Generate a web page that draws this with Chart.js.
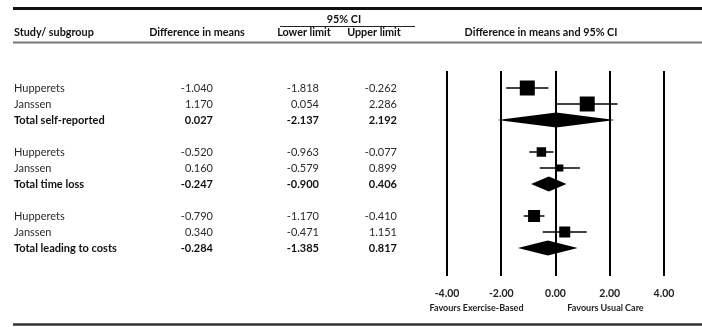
<!DOCTYPE html>
<html>
<head>
<meta charset="utf-8">
<script src="https://cdn.jsdelivr.net/npm/chart.js"></script>
<style>
  html, body { margin: 0; padding: 0; background: #fff; }
  #forest { display: block; }
</style>
</head>
<body>
<canvas id="forest" width="702" height="327"></canvas>
<script>
// forest plot: difference in means, three outcome groups
const studyNames = ['Hupperets', 'Janssen', 'Total self-reported',
                    'Hupperets', 'Janssen', 'Total time loss',
                    'Hupperets', 'Janssen', 'Total leading to costs'];
const isTotal = [false, false, true, false, false, true, false, false, true];
const diffMeans = [-1.040, 1.170, 0.027, -0.520, 0.160, -0.247, -0.790, 0.340, -0.284];
const lowerLimits = [-1.818, 0.054, -2.137, -0.963, -0.579, -0.900, -1.170, -0.471, -1.385];
const upperLimits = [-0.262, 2.286, 2.192, -0.077, 0.899, 0.406, -0.410, 1.151, 0.817];
// relative study weights, read from the square areas (totals have none)
const weights = [100, 100, null, 40, 22, null, 64, 54, null];
const xTicks = [-4, -2, 0, 2, 4];

const FONT = 'Lato, "Liberation Sans", sans-serif';
// one blank slot between groups
const rowIndex = studyNames.map((_, i) => i + Math.floor(i / 3));

function squareRadius(w) {
  // rect pointStyle side = 2 * r * SQRT1_2
  const side = 15 * Math.sqrt(w / 100);
  return side / (2 * Math.SQRT1_2);
}

const studyPoints = [];
const studyRadius = [];
studyNames.forEach((n, i) => {
  if (!isTotal[i]) {
    studyPoints.push({ x: diffMeans[i], y: rowIndex[i] });
    studyRadius.push(squareRadius(weights[i]));
  }
});

function text(ctx, str, x, y, font, align, color) {
  ctx.font = font;
  ctx.textAlign = align;
  ctx.textBaseline = 'middle';
  ctx.fillStyle = color;
  ctx.fillText(str, x, y);
}

function hline(ctx, x1, x2, y, w, color) {
  ctx.beginPath();
  ctx.strokeStyle = color;
  ctx.lineWidth = w;
  ctx.moveTo(x1, y);
  ctx.lineTo(x2, y);
  ctx.stroke();
}

const forestPlugin = {
  id: 'forestTable',
  beforeDatasetsDraw(chart) {
    const { ctx, scales: { x, y } } = chart;
    ctx.save();
    ctx.fillStyle = '#000';
    studyNames.forEach((n, i) => {
      const py = y.getPixelForValue(rowIndex[i]);
      const lo = x.getPixelForValue(lowerLimits[i]);
      const hi = x.getPixelForValue(upperLimits[i]);
      const m = x.getPixelForValue(diffMeans[i]);
      if (isTotal[i]) {
        ctx.beginPath();
        ctx.moveTo(lo, py);
        ctx.lineTo(m, py - 7.5);
        ctx.lineTo(hi, py);
        ctx.lineTo(m, py + 7.5);
        ctx.closePath();
        ctx.fill();
      } else {
        hline(ctx, lo, hi, py, 1.5, '#000');
      }
    });
    ctx.restore();
  },
  afterDraw(chart) {
    const { ctx, scales: { y } } = chart;
    ctx.save();
    // rules
    hline(ctx, 13, 702, 8.5, 3, '#111');
    hline(ctx, 280, 415, 26.5, 1, '#222');
    hline(ctx, 13, 702, 42.5, 2, '#777');
    hline(ctx, 13, 702, 324.5, 2.5, '#333');

    // header
    const hf = 'bold 10.8px ' + FONT;
    text(ctx, '95% CI', 344, 20, hf, 'center', '#111');
    text(ctx, 'Study/ subgroup', 14, 33, hf, 'left', '#111');
    text(ctx, 'Difference in means', 197, 33, hf, 'center', '#111');
    text(ctx, 'Lower limit', 304, 33, hf, 'center', '#111');
    text(ctx, 'Upper limit', 374, 33, hf, 'center', '#111');
    text(ctx, 'Difference in means and 95% CI', 541, 33, hf, 'center', '#111');

    // body
    studyNames.forEach((n, i) => {
      const py = y.getPixelForValue(rowIndex[i]);
      const f = (isTotal[i] ? 'bold ' : '') + '11px ' + FONT;
      const c = isTotal[i] ? '#111' : '#2a2a2a';
      text(ctx, n, 14, py, f, 'left', c);
      text(ctx, diffMeans[i].toFixed(3), 213, py, f, 'right', c);
      text(ctx, lowerLimits[i].toFixed(3), 319, py, f, 'right', c);
      text(ctx, upperLimits[i].toFixed(3), 397, py, f, 'right', c);
    });

    // axis captions
    const cf = 'bold 9px ' + FONT;
    text(ctx, 'Favours Exercise-Based', 476.5, 308, cf, 'center', '#222');
    text(ctx, 'Favours Usual Care', 605.5, 308, cf, 'center', '#222');
    ctx.restore();
  }
};

new Chart(document.getElementById('forest'), {
  type: 'scatter',
  data: {
    datasets: [{
      label: 'Studies',
      data: studyPoints,
      pointStyle: 'rect',
      pointRadius: studyRadius,
      pointHoverRadius: studyRadius,
      backgroundColor: '#000',
      borderWidth: 0
    }]
  },
  options: {
    responsive: false,
    animation: false,
    devicePixelRatio: 1,
    layout: { padding: { left: 447, right: 38, top: 71, bottom: 0 } },
    plugins: { legend: { display: false }, tooltip: { enabled: false } },
    scales: {
      x: {
        type: 'linear',
        min: -4,
        max: 4,
        afterFit: s => { s.height = 51; },
        afterBuildTicks: s => { s.ticks = xTicks.map(v => ({ value: v })); },
        ticks: {
          padding: 11,
          color: '#222',
          font: { family: FONT, size: 10.5, weight: 'bold' },
          callback: v => v.toFixed(2)
        },
        grid: { color: '#000', lineWidth: 2, drawTicks: false },
        border: { display: false }
      },
      y: {
        type: 'linear',
        display: false,
        reverse: true,
        min: -1.0625,
        max: 11.75
      }
    }
  },
  plugins: [forestPlugin]
});
</script>
</body>
</html>
